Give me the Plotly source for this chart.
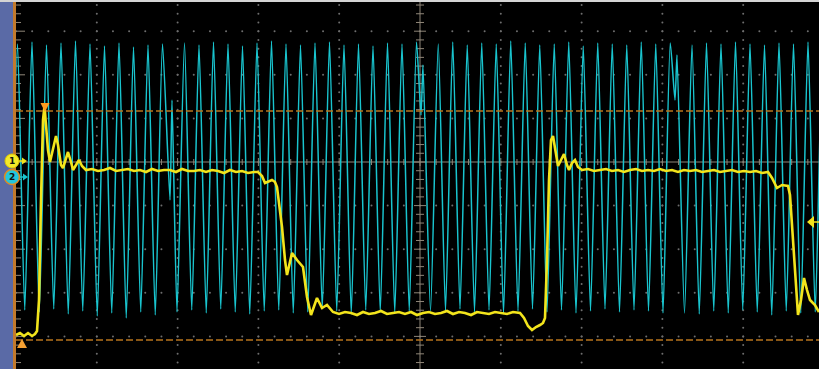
import plotly.graph_objects as go

# Horizontal unit: acquisition sample; vertical unit: ADC count.
SAMPLES_PER_DIV = 80.8
COUNTS_PER_DIV = 43.6
X_VIEW = [-16, 803]
Y_VIEW = [-207, 162]
CENTER_SAMPLE = 404

# ---- Channel 1 (yellow): switching node ----
ch1_t = [0, 4, 8, 12, 16, 19, 21, 23, 25, 27, 28.5, 30, 32, 34, 37, 40, 42, 45, 47, 50, 52, 55, 57, 60, 63, 66,
         70, 76, 82, 88, 94, 100, 106, 112, 118, 124, 130, 136, 142, 148, 154, 160, 166, 172, 178, 184, 190, 196,
         202, 208, 214, 220, 226, 232, 238, 242,
         246, 249, 256, 259, 261, 266, 269, 271, 276, 281, 287, 291, 295, 301, 306, 311,
         317, 323, 329, 335, 341, 347, 353, 359, 365, 371, 377, 383, 389, 395, 401, 407, 413, 419, 425, 431,
         437, 443, 449, 455, 461, 467, 473, 479, 485, 491, 497, 504,
         508, 512, 516, 520, 524, 527, 529, 531, 533, 535, 537, 539, 542, 545, 548, 551, 553, 556, 559, 562,
         566, 572, 578, 584, 590, 596, 602, 608, 614, 620, 626, 632, 638, 644, 650, 656, 662, 668, 674, 680,
         686, 692, 698, 704, 710, 716, 722, 728, 734, 740, 746, 752,
         756, 761, 766, 772, 774, 777, 780, 782, 785, 788, 791, 794, 799, 803]
ch1_v = [-173, -171, -174, -171, -174, -172, -169, -138, -38, 42, 56, 37, 12, 0, 14, 26, 17, -3, -6, 4, 10, 0, -8, -3, 2, -4,
         -8, -7, -9, -8, -6, -9, -8, -7, -9, -8, -10, -7, -9, -8, -8, -10, -7, -9, -9, -8, -10, -8,
         -9, -11, -8, -10, -9, -11, -10, -10,
         -14, -21, -18, -20, -25, -65, -98, -113, -91, -98, -105, -135, -153, -136, -146, -143,
         -150, -152, -150, -151, -153, -150, -152, -151, -149, -152, -151, -150, -152, -150, -153, -151, -150, -152, -151, -149,
         -152, -150, -151, -153, -150, -151, -152, -150, -151, -152, -150, -151,
         -156, -164, -168, -165, -163, -161, -156, -98, -18, 22, 26, 12, -4, 2, 8, -3, -8, -1, 2, -5,
         -8, -7, -9, -8, -7, -9, -8, -10, -8, -7, -9, -8, -9, -7, -9, -8, -10, -8, -9, -8,
         -10, -9, -8, -10, -9, -8, -10, -9, -10, -9, -11, -10,
         -16, -26, -23, -24, -33, -78, -128, -153, -138, -116, -128, -138, -143, -150]

# ---- Channel 2 (cyan): carrier with three phase reversals ----
CARRIER_PERIOD = 14.5
seg_first_peak = [1.5, 168.5, 422.25, 676.0]
seg_peak_count = [11, 17, 17, 10]
ch2_peak_v = [118, 120, 117, 119, 121, 118, 116, 119, 115, 117, 118,
              119, 117, 120, 118, 116, 119, 121, 118, 117, 119, 120, 117, 118, 116, 119, 118, 120,
              118, 120, 117, 119, 118, 121, 119, 117, 118, 120, 116, 119, 118, 117, 120, 118, 119,
              117, 119, 118, 120, 118, 117, 119, 118, 120, 118]
ch2_trough_v = [-148, -150, -147, -152, -149, -154, -151, -156, -150, -153, -149,
                -148, -151, -147, -150, -152, -149, -148, -151, -150, -147, -149, -152, -148, -150, -151, -149, -148,
                -149, -147, -150, -148, -152, -149, -147, -150, -148, -151, -149, -147, -150, -148, -149, -151, -150,
                -152, -149, -151, -148, -150, -153, -149, -151, -150, -149]
ch2_lead_trough = -149
glitch_t = [[154, 156, 161], [405, 407, 414.5], [659, 661, 668.5]]
glitch_v = [[-38, 62, -150], [47, 97, -149], [62, 107, -151]]

# Cursor levels and trigger level
cursor_levels = [51, -178]
trigger_level = -60

YELLOW = "#f2e41c"
CYAN = "#19c4ce"
ORANGE = "#b8741c"

# assemble the channel 2 polyline (peak / trough vertices)
ch2_t = [seg_first_peak[0] - CARRIER_PERIOD / 2]
ch2_v = [ch2_lead_trough]
idx = 0
for s in range(len(seg_first_peak)):
    for k in range(seg_peak_count[s]):
        tp = seg_first_peak[s] + k * CARRIER_PERIOD
        ch2_t.append(tp)
        ch2_v.append(ch2_peak_v[idx])
        if k < seg_peak_count[s] - 1 or s == len(seg_first_peak) - 1:
            ch2_t.append(tp + CARRIER_PERIOD / 2)
            ch2_v.append(ch2_trough_v[idx])
        idx += 1
    if s < len(glitch_t):
        ch2_t.extend(glitch_t[s])
        ch2_v.extend(glitch_v[s])

fig = go.Figure()

# graticule dots on the major lines
gx, gy = [], []
n_cols = 10
for c in range(1, n_cols):
    xc = c * SAMPLES_PER_DIV
    if abs(xc - CENTER_SAMPLE) < 1:
        continue
    j = -24
    while j * COUNTS_PER_DIV / 5 < Y_VIEW[1]:
        yy = j * COUNTS_PER_DIV / 5
        if yy > Y_VIEW[0]:
            gx.append(xc)
            gy.append(yy)
        j += 1
for r in range(-4, 4):
    if r == 0:
        continue
    yr = r * COUNTS_PER_DIV
    for j in range(0, 51):
        gx.append(j * SAMPLES_PER_DIV / 5)
        gy.append(yr)
fig.add_trace(go.Scatter(x=gx, y=gy, mode="markers",
                         marker=dict(size=2, color="#6e6e6e", line=dict(width=0)),
                         hoverinfo="skip", showlegend=False))

# center cross tick marks and left edge ticks
tx, ty = [], []
for j in range(0, 51):
    xx = j * SAMPLES_PER_DIV / 5
    h = 4 if j % 5 == 0 else 3
    tx += [xx, xx, None]
    ty += [-h, h, None]
j = -24
while j * COUNTS_PER_DIV / 5 < Y_VIEW[1]:
    yy = j * COUNTS_PER_DIV / 5
    w = 6 if j % 5 == 0 else 4
    tx += [CENTER_SAMPLE - w, CENTER_SAMPLE + w, None]
    ty += [yy, yy, None]
    tx += [0, 9 if j % 5 == 0 else 5, None]
    ty += [yy, yy, None]
    j += 1
fig.add_trace(go.Scatter(x=tx, y=ty, mode="lines", line=dict(color="#8f8678", width=1),
                         hoverinfo="skip", showlegend=False))
fig.add_trace(go.Scatter(x=[0, X_VIEW[1]], y=[0, 0], mode="lines",
                         line=dict(color="#8f8678", width=1), hoverinfo="skip", showlegend=False))
fig.add_trace(go.Scatter(x=[CENTER_SAMPLE, CENTER_SAMPLE], y=Y_VIEW, mode="lines",
                         line=dict(color="#8f8678", width=1), hoverinfo="skip", showlegend=False))

# waveforms
fig.add_trace(go.Scatter(x=ch2_t, y=ch2_v, mode="lines",
                         line=dict(color=CYAN, width=1.5, shape="spline", smoothing=0.6),
                         hoverinfo="skip", showlegend=False, name="Ch2"))
fig.add_trace(go.Scatter(x=ch1_t, y=ch1_v, mode="lines", line=dict(color=YELLOW, width=2.6),
                         hoverinfo="skip", showlegend=False, name="Ch1"))

shapes = []
# cursors
for lvl in cursor_levels:
    shapes.append(dict(type="line", xref="x", yref="y", x0=0, x1=X_VIEW[1], y0=lvl, y1=lvl,
                       line=dict(color=ORANGE, width=1.6, dash="7px,3px"), layer="above"))
# screen frame: side bar, edge line, top border
shapes.append(dict(type="rect", xref="x", yref="paper", x0=X_VIEW[0], x1=-3, y0=0, y1=1,
                   fillcolor="#5a6aa6", line=dict(width=0), layer="above"))
shapes.append(dict(type="rect", xref="x", yref="paper", x0=-3, x1=0, y0=0, y1=1,
                   fillcolor="#c27a2c", line=dict(width=0), layer="above"))
shapes.append(dict(type="rect", xref="paper", yref="y", x0=0, x1=1, y0=160, y1=Y_VIEW[1],
                   fillcolor="#d4d4d4", line=dict(width=0), layer="above"))
# cursor handles
shapes.append(dict(type="path", xref="x", yref="y", path="M 24.5 59 L 33.5 59 L 29 50 Z",
                   fillcolor="#ff9c1e", line=dict(width=0), layer="above"))
shapes.append(dict(type="path", xref="x", yref="y", path="M 1 -186 L 11 -186 L 6 -177 Z",
                   fillcolor="#f5a032", line=dict(width=0), layer="above"))
# trigger level arrow
shapes.append(dict(type="path", xref="x", yref="y",
                   path=f"M 791 {trigger_level} L 798 {trigger_level + 6} L 798 {trigger_level - 6} Z",
                   fillcolor=YELLOW, line=dict(width=0), layer="above"))
shapes.append(dict(type="line", xref="x", yref="y", x0=797, x1=803, y0=trigger_level, y1=trigger_level,
                   line=dict(color=YELLOW, width=1.5), layer="above"))
# channel position markers
shapes.append(dict(type="line", xref="x", yref="y", x0=2, x1=8, y0=1, y1=1,
                   line=dict(color=YELLOW, width=1.5), layer="above"))
shapes.append(dict(type="path", xref="x", yref="y", path="M 6 4.5 L 11 1 L 6 -2.5 Z",
                   fillcolor=YELLOW, line=dict(width=0), layer="above"))
shapes.append(dict(type="circle", xref="x", yref="y", x0=-11, x1=3, y0=-6, y1=8,
                   fillcolor="#f3ea2a", line=dict(color="#e0c800", width=1), layer="above"))
shapes.append(dict(type="line", xref="x", yref="y", x0=3, x1=9, y0=-15, y1=-15,
                   line=dict(color=CYAN, width=1.5), layer="above"))
shapes.append(dict(type="path", xref="x", yref="y", path="M 7 -11.5 L 12 -15 L 7 -18.5 Z",
                   fillcolor=CYAN, line=dict(width=0), layer="above"))
shapes.append(dict(type="circle", xref="x", yref="y", x0=-11.5, x1=3.5, y0=-22.5, y1=-7.5,
                   fillcolor="#22c6dc", line=dict(color="#e08a20", width=1.5), layer="above"))

annotations = [
    dict(x=-4, y=1, xref="x", yref="y", text="<b>1</b>", showarrow=False,
         font=dict(family="DejaVu Sans", size=9, color="#111111")),
    dict(x=-4, y=-15, xref="x", yref="y", text="<b>2</b>", showarrow=False,
         font=dict(family="DejaVu Sans", size=9, color="#111111")),
]

fig.update_layout(
    width=819, height=369,
    margin=dict(l=0, r=0, t=0, b=0),
    paper_bgcolor="#000000", plot_bgcolor="#000000",
    shapes=shapes, annotations=annotations,
    xaxis=dict(range=X_VIEW, visible=False, fixedrange=True),
    yaxis=dict(range=Y_VIEW, visible=False, fixedrange=True),
    showlegend=False,
)

fig.write_html("out.html")
